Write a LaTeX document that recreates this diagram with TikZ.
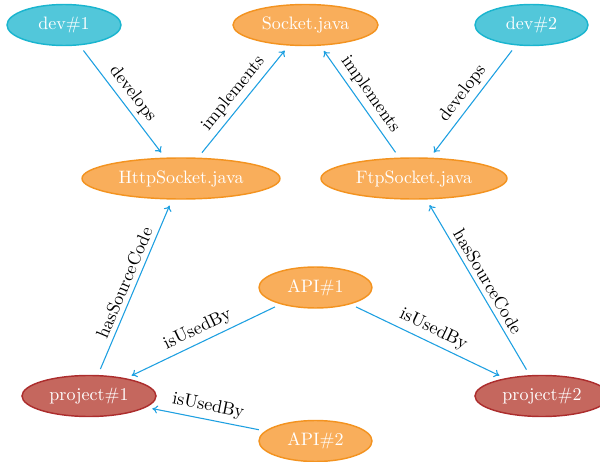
\documentclass[tikz,border=0pt]{standalone}
\usetikzlibrary{arrows.meta,shapes.geometric}
\definecolor{cyanfill}{RGB}{82,199,218}
\definecolor{cyandraw}{RGB}{26,181,207}
\definecolor{orfill}{RGB}{249,174,91}
\definecolor{ordraw}{RGB}{243,147,32}
\definecolor{redfill}{RGB}{197,103,94}
\definecolor{reddraw}{RGB}{172,45,45}
\definecolor{edgecol}{RGB}{30,160,225}
\tikzset{
  ent/.style={ellipse, draw, line width=0.8pt, inner sep=0pt, outer sep=0pt,
    minimum height=41*0.5556pt, text=white, font=\normalsize},
  devnode/.style={ent, fill=cyanfill, draw=cyandraw},
  filenode/.style={ent, fill=orfill, draw=ordraw},
  projnode/.style={ent, fill=redfill, draw=reddraw},
  rel/.style={draw=edgecol, line width=0.6pt, -{To[length=3pt,width=4.5pt]},
    shorten >=4pt, shorten <=4pt},
  lab/.style={sloped, above, text=black, font=\normalsize, inner sep=2.5pt}
}
\begin{document}
\begin{tikzpicture}[x=0.5556pt,y=-0.5556pt]
\clip (0,0) rectangle (600,462);
\useasboundingbox (0,0) rectangle (600,462);
\node[devnode, minimum width=114*0.5556pt] (dev1) at (64,25) {dev\#1};
\node[filenode, minimum width=145*0.5556pt] (sock) at (305.5,25) {Socket.java};
\node[devnode, minimum width=113*0.5556pt] (dev2) at (531.5,25) {dev\#2};
\node[filenode, minimum width=198*0.5556pt] (http) at (181,178.5) {HttpSocket.java};
\node[filenode, minimum width=186*0.5556pt] (ftp) at (414,178.5) {FtpSocket.java};
\node[filenode, minimum width=113*0.5556pt] (api1) at (315.5,287.5) {API\#1};
\node[projnode, minimum width=134*0.5556pt] (proj1) at (89,396) {project\#1};
\node[projnode, minimum width=134*0.5556pt] (proj2) at (542,396) {project\#2};
\node[filenode, minimum width=113*0.5556pt] (api2) at (315.5,441) {API\#2};

\draw[rel] (dev1) -- node[lab] {develops} (http);
\draw[rel] (http) -- node[lab] {implements} (sock);
\draw[rel] (ftp) -- node[lab] {implements} (sock);
\draw[rel] (dev2) -- node[lab] {develops} (ftp);
\draw[rel] (proj1) -- node[lab] {hasSourceCode} (http);
\draw[rel] (proj2) -- node[lab] {hasSourceCode} (ftp);
\draw[rel] (api1) -- node[lab] {isUsedBy} (proj1);
\draw[rel] (api1) -- node[lab] {isUsedBy} (proj2);
\draw[rel] (api2) -- node[lab] {isUsedBy} (proj1);
\end{tikzpicture}
\end{document}
